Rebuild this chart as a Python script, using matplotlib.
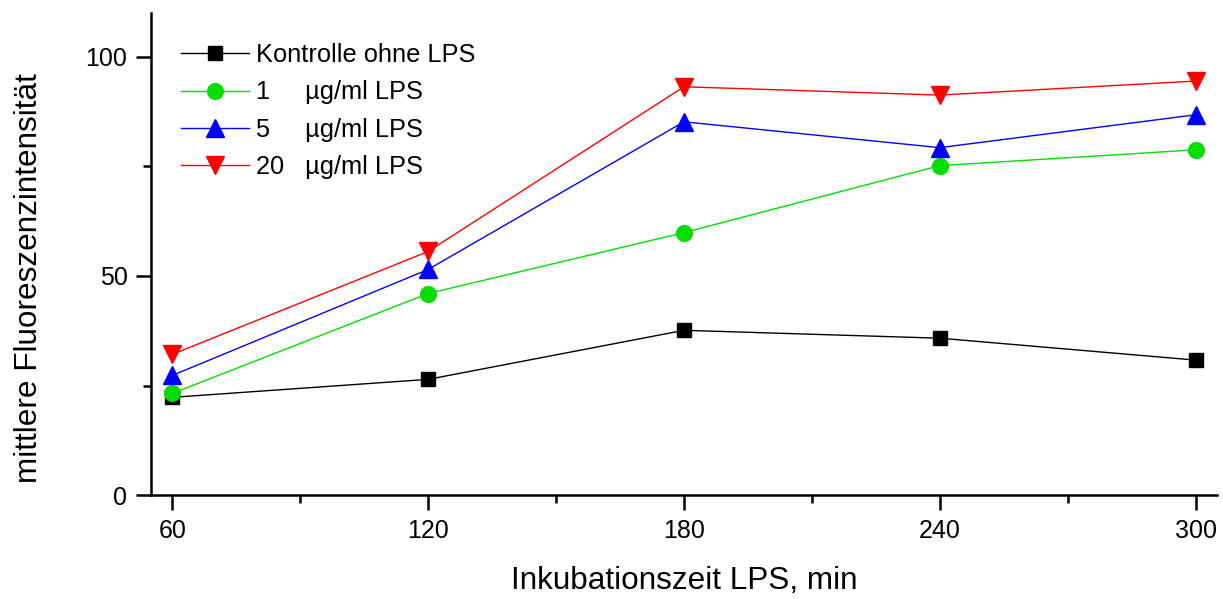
import matplotlib
matplotlib.use("Agg")
import matplotlib.pyplot as plt
from matplotlib.ticker import MultipleLocator

plt.rcParams['font.family'] = ['Liberation Sans', 'DejaVu Sans']

# Inkubationszeiten (min) und mittlere Fluoreszenzintensitäten
zeiten = [60, 120, 180, 240, 300]
kontrolle = [22.3, 26.4, 37.6, 35.8, 30.8]
lps_1 = [23.2, 46.0, 59.9, 75.2, 78.8]
lps_5 = [27.3, 51.5, 85.2, 79.3, 86.8]
lps_20 = [32.1, 55.6, 93.2, 91.3, 94.5]

labels = ["Kontrolle ohne LPS", "1     µg/ml LPS", "5     µg/ml LPS", "20   µg/ml LPS"]

fig = plt.figure(figsize=(12.23, 5.99), dpi=100)
ax = fig.add_axes([0.1235, 0.1736, 0.995 - 0.1235, 0.978 - 0.1736])

ax.plot(zeiten, kontrolle, color='black', lw=1, marker='s', ms=10, label=labels[0])
ax.plot(zeiten, lps_1, color='#00dd00', lw=1, marker='o', ms=11.3, label=labels[1])
ax.plot(zeiten, lps_5, color='#0000ff', lw=1, marker='^', ms=12.5, label=labels[2])
ax.plot(zeiten, lps_20, color='#ff0000', lw=1, marker='v', ms=12.5, label=labels[3])

ax.set_xlim(55, 305)
ax.set_ylim(0, 110)
ax.xaxis.set_major_locator(MultipleLocator(60))
ax.xaxis.set_minor_locator(MultipleLocator(30))
ax.yaxis.set_major_locator(MultipleLocator(50))
ax.yaxis.set_minor_locator(MultipleLocator(25))

for side in ('top', 'right'):
    ax.spines[side].set_visible(False)
for side in ('left', 'bottom'):
    ax.spines[side].set_linewidth(1.8)

ax.tick_params(which='major', direction='out', length=11, width=1.8, labelsize=18, pad=6)
ax.tick_params(which='minor', direction='out', length=6, width=1.8)

ax.set_xlabel("Inkubationszeit LPS, min", fontsize=22.7, labelpad=17)
ax.set_ylabel("mittlere Fluoreszenzintensität", fontsize=22.7, labelpad=30)
ax.yaxis.label.set_y(0.45)

ax.legend(loc='upper left', bbox_to_anchor=(0.007, 0.985), frameon=False, fontsize=18.3,
          handlelength=2.65, numpoints=1, labelspacing=0.52, handletextpad=0.3)

fig.savefig("out.png", dpi=100)
